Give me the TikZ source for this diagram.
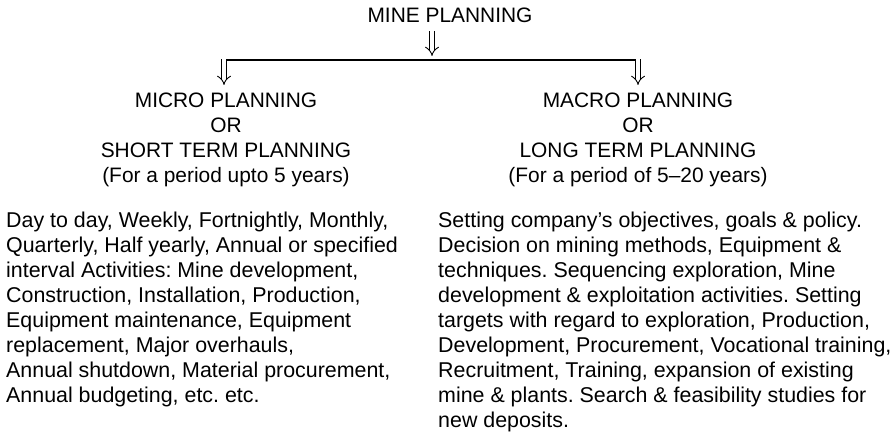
\documentclass[tikz,border=0pt]{standalone}
\usepackage{fontspec}
\setmainfont{Liberation Sans}
\usetikzlibrary{arrows.meta}
\frenchspacing

\newcommand*{\lineY}{373}
\newcommand*{\microX}{224}
\newcommand*{\macroX}{638}

\begin{document}
\begin{tikzpicture}
[
	x=1pt,
	y=1pt,
	head/.style={inner sep=0pt,align=center,anchor=north,font=\fontsize{20.9}{25}\selectfont},
	body/.style={inner sep=0pt,align=left,anchor=north west,font=\fontsize{21.4}{25}\selectfont},
	dblarrow/.style={double,double distance=4pt,line width=0.9pt,-{Implies[length=7pt,width=15pt]}},
]

	\useasboundingbox (0,0) rectangle (896,433);

	% headings
	\node[head] (mine) at (450,425.5) {MINE PLANNING};
	\node[head] (micro) at (226,340.5) {MICRO PLANNING\\OR\\SHORT TERM PLANNING\\(For a period upto 5 years)};
	\node[head] (macro) at (\macroX,340.5) {MACRO PLANNING\\OR\\LONG TERM PLANNING\\(For a period of 5--20 years)};

	% splitting line
	\coordinate (topin) at (432,402);
	\coordinate (topout) at (432,377);
	\coordinate (jl) at (\microX,\lineY);
	\coordinate (jr) at (\macroX,\lineY);
	\draw[dblarrow] (topin) -- (topout);
	\draw[line width=1.2pt] ([xshift=-3pt]jl) -- ([xshift=3pt]jr);
	\draw[dblarrow] ([yshift=0.6pt]jl) -- (\microX,348);
	\draw[dblarrow] ([yshift=0.6pt]jr) -- (\macroX,348);

	% activities
	\node[body] (shortact) at (6,221.5) {Day to day, Weekly, Fortnightly, Monthly,\\
		Quarterly, Half yearly, Annual or specified\\
		interval Activities: Mine development,\\
		Construction, Installation, Production,\\
		Equipment maintenance, Equipment\\
		replacement, Major overhauls,\\
		Annual shutdown, Material procurement,\\
		Annual budgeting, etc. etc.};
	\node[body] (longact) at (438,221.5) {Setting company’s objectives, goals \& policy.\\
		Decision on mining methods, Equipment \&\\
		techniques. Sequencing exploration, Mine\\
		development \& exploitation activities. Setting\\
		targets with regard to exploration, Production,\\
		Development, Procurement, Vocational training,\\
		Recruitment, Training, expansion of existing\\
		mine \& plants. Search \& feasibility studies for\\
		new deposits.};

\end{tikzpicture}
\end{document}
